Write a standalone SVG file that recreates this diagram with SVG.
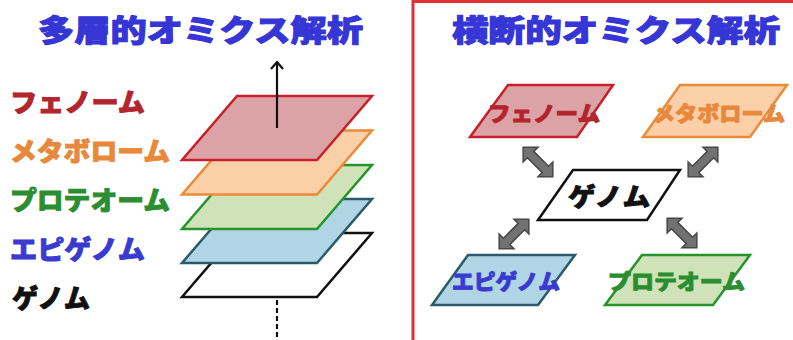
<svg xmlns="http://www.w3.org/2000/svg" width="793" height="340" viewBox="0 0 793 340">
<style>
text{font-family:"Noto Sans CJK JP","Noto Sans",sans-serif;font-weight:900;dominant-baseline:central;stroke-width:0.9;stroke-linejoin:round}
.title{font-size:30px;fill:#3636d6;stroke:#3636d6;stroke-width:1.1}
.lbl{font-size:26px}
.rl{font-size:21px}
.red{fill:#dba3a6;stroke:#c8202a;stroke-width:2.5}
.org{fill:#fbcfa8;stroke:#ec8a38;stroke-width:2.5}
.grn{fill:#cfe2b8;stroke:#24952c;stroke-width:2.5}
.blu{fill:#b0d6e6;stroke:#2d5a6a;stroke-width:2.5}
.blk{fill:#ffffff;stroke:#111111;stroke-width:2.5}
.tred{fill:#b3242c;stroke:#b3242c}.torg{fill:#e8883a;stroke:#e8883a}.tgrn{fill:#2a8e30;stroke:#2a8e30}.tblu{fill:#3a3ad0;stroke:#3a3ad0}.tblk{fill:#111111;stroke:#111111}
.garrow{fill:#727272;stroke:#474747;stroke-width:1.5;stroke-linejoin:miter}
</style>
<defs>
<marker id="ah" viewBox="0 0 14 14" refX="13" refY="7" markerWidth="14" markerHeight="14" markerUnits="userSpaceOnUse" orient="auto">
<path d="M6,1 L13,7 L6,13" fill="none" stroke="#111" stroke-width="2.2"/>
</marker>
<path id="dbl" d="M-21,0 L-10.5,-10.5 L-10.5,-4.5 L10.5,-4.5 L10.5,-10.5 L21,0 L10.5,10.5 L10.5,4.5 L-10.5,4.5 L-10.5,10.5 Z"/>
</defs>
<rect x="0" y="0" width="793" height="340" fill="#ffffff"/>

<!-- Left panel -->
<g id="title-left"><text class="title" x="38" y="28" textLength="325" lengthAdjust="spacingAndGlyphs">多層的オミクス解析</text></g>

<g id="layer-genome"><polygon class="blk" points="237,233 372,233 317,297 182,297"/><text class="lbl tblk" x="12" y="296" textLength="78" lengthAdjust="spacingAndGlyphs">ゲノム</text></g>
<g id="layer-epigenome"><polygon class="blu" points="237,199 372,199 317,263 182,263"/><text class="lbl tblu" x="10" y="247" textLength="135" lengthAdjust="spacingAndGlyphs">エピゲノム</text></g>
<g id="layer-proteome"><polygon class="grn" points="237,165 372,165 317,229 182,229"/><text class="lbl tgrn" x="10" y="198" textLength="160" lengthAdjust="spacingAndGlyphs">プロテオーム</text></g>
<g id="layer-metabolome"><polygon class="org" points="237,130.5 372,130.5 317,194.5 182,194.5"/><text class="lbl torg" x="10" y="149" textLength="160" lengthAdjust="spacingAndGlyphs">メタボローム</text></g>
<g id="layer-phenome"><polygon class="red" points="237,96 372,96 317,160 182,160"/><text class="lbl tred" x="10" y="100" textLength="135" lengthAdjust="spacingAndGlyphs">フェノーム</text></g>

<g id="connectors-left">
<line x1="277" y1="128" x2="277" y2="62" stroke="#111" stroke-width="2.2" marker-end="url(#ah)"/>
<line x1="277" y1="300" x2="277" y2="340" stroke="#111" stroke-width="2.2" stroke-dasharray="5,3"/>
</g>

<!-- Right panel -->
<rect x="413" y="1.5" width="400" height="360" fill="none" stroke="#e03034" stroke-width="3"/>
<g id="title-right"><text class="title" x="452" y="28" textLength="328" lengthAdjust="spacingAndGlyphs">横断的オミクス解析</text></g>

<g id="node-phenome"><polygon class="red" points="508,85 613,85 577,137 470,137"/><text class="rl tred" x="488" y="112" textLength="112" lengthAdjust="spacingAndGlyphs">フェノーム</text></g>
<g id="node-metabolome"><polygon class="org" points="680,85 787,85 750,137 643,137"/><text class="rl torg" x="653" y="112" textLength="132" lengthAdjust="spacingAndGlyphs">メタボローム</text></g>
<g id="node-genome"><polygon class="blk" points="573,170 680,170 647,220 538,220"/><text class="tblk" style="font-size:25px" x="568" y="195" textLength="82" lengthAdjust="spacingAndGlyphs">ゲノム</text></g>
<g id="node-epigenome"><polygon class="blu" points="468,255 575,255 538,305 432,305"/><text class="rl tblu" x="452" y="280" textLength="108" lengthAdjust="spacingAndGlyphs">エピゲノム</text></g>
<g id="node-proteome"><polygon class="grn" points="642,255 750,255 713,305 605,305"/><text class="rl tgrn" x="608" y="280" textLength="137" lengthAdjust="spacingAndGlyphs">プロテオーム</text></g>

<g id="connectors-right">
<use href="#dbl" class="garrow" transform="translate(538,162) rotate(45)"/>
<use href="#dbl" class="garrow" transform="translate(703,162) rotate(-45)"/>
<use href="#dbl" class="garrow" transform="translate(514,234) rotate(-45)"/>
<use href="#dbl" class="garrow" transform="translate(682,233) rotate(45)"/>
</g>
</svg>
